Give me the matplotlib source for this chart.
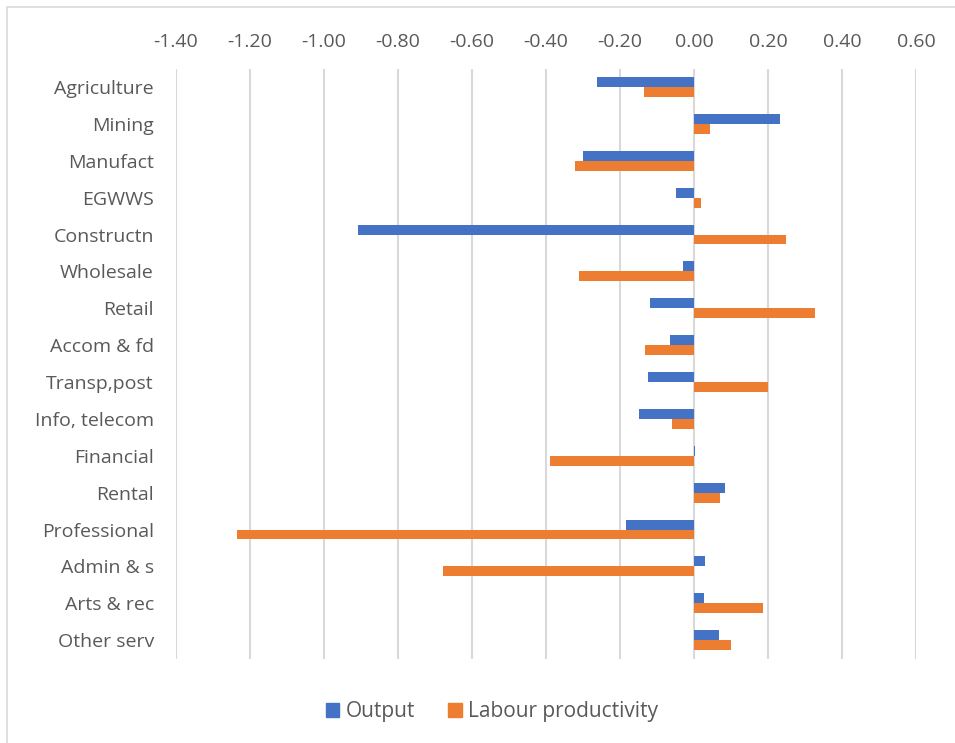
import matplotlib
matplotlib.use("Agg")
import matplotlib.pyplot as plt
from matplotlib.patches import Rectangle, Patch
import numpy as np

plt.rcParams['font.family'] = ['Open Sans', 'DejaVu Sans']

sectors = ["Agriculture", "Mining", "Manufact", "EGWWS", "Constructn", "Wholesale",
           "Retail", "Accom & fd", "Transp,post", "Info, telecom", "Financial",
           "Rental", "Professional", "Admin & s", "Arts & rec", "Other serv"]
output = [-0.262, 0.232, -0.299, -0.050, -0.907, -0.030, -0.119, -0.065, -0.123,
          -0.150, 0.002, 0.083, -0.183, 0.031, 0.028, 0.068]
labour_prod = [-0.134, 0.042, -0.321, 0.018, 0.248, -0.311, 0.326, -0.132, 0.199,
               -0.059, -0.390, 0.070, -1.235, -0.678, 0.186, 0.101]
x_ticks = [-1.40, -1.20, -1.00, -0.80, -0.60, -0.40, -0.20, 0.00, 0.20, 0.40, 0.60]

BLUE = "#4472C4"
ORANGE = "#ED7D31"
TEXT = "#595959"
GRID = "#D9D9D9"

W, H = 955, 743
fig = plt.figure(figsize=(W / 100, H / 100), dpi=100)

# chart-area border
fig.patches.append(Rectangle((7 / W, -0.01), 1.02, 1 - 7 / H + 0.01,
                             transform=fig.transFigure, fill=False,
                             edgecolor=GRID, linewidth=1.2))

left, right, top, bottom = 176, 916, 68.6, 658.6
ax = fig.add_axes([left / W, 1 - bottom / H, (right - left) / W, (bottom - top) / H])

y = np.arange(len(sectors))
bh = 0.27
ax.barh(y - bh / 2, output, height=bh, color=BLUE, label="Output", zorder=3)
ax.barh(y + bh / 2, labour_prod, height=bh, color=ORANGE,
        label="Labour productivity", zorder=3)

ax.set_xlim(x_ticks[0], x_ticks[-1])
ax.set_ylim(len(sectors) - 0.5, -0.5)
ax.set_xticks(x_ticks)
ax.set_xticklabels([f"{v:.2f}" for v in x_ticks])
ax.xaxis.tick_top()
ax.set_yticks(y)
ax.set_yticklabels(sectors)
ax.tick_params(axis='both', length=0, labelsize=14, colors=TEXT)
ax.tick_params(axis='x', pad=12.5)
ax.tick_params(axis='y', pad=16)
for s in ax.spines.values():
    s.set_visible(False)
ax.grid(axis='x', color=GRID, linewidth=1.5, zorder=0)
ax.set_axisbelow(True)

handles = [Patch(color=BLUE, label="Output"),
           Patch(color=ORANGE, label="Labour productivity")]
leg = fig.legend(handles=handles, loc='center', bbox_to_anchor=(492 / W, 1 - 712 / H),
                 ncol=2, frameon=False, fontsize=15, handlelength=0.65,
                 handleheight=0.65, handletextpad=0.3, columnspacing=1.6)
for t in leg.get_texts():
    t.set_color(TEXT)

fig.savefig("out.png", dpi=100)
